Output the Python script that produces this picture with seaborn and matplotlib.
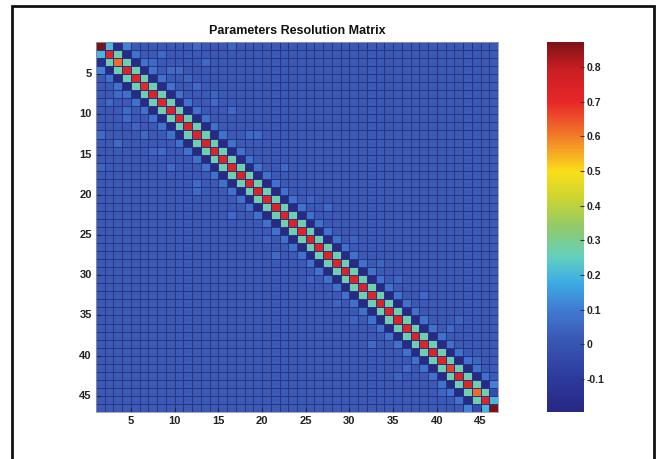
import numpy as np
import pandas as pd
import matplotlib
matplotlib.use("Agg")
import matplotlib.pyplot as plt
from matplotlib.colors import LinearSegmentedColormap
from matplotlib.patches import Rectangle
import seaborn as sns

# ---- data (46 x 46 resolution matrix) ----
n_params = 46
diag_vals = [0.872, 0.72, 0.62, 0.74, 0.73, 0.70, 0.74, 0.73, 0.74, 0.73,
             0.74, 0.73, 0.74, 0.73, 0.74, 0.73, 0.74, 0.73, 0.74, 0.73,
             0.74, 0.73, 0.74, 0.73, 0.74, 0.73, 0.74, 0.73, 0.74, 0.73,
             0.74, 0.73, 0.74, 0.73, 0.74, 0.73, 0.74, 0.73, 0.74, 0.73,
             0.67, 0.74, 0.73, 0.62, 0.72, 0.872]
band1_vals = [0.20] + [0.27] * 43 + [0.20]
band2_vals = [-0.16] + [-0.18] * 42 + [-0.16]
band3_vals = [0.11] + [0.08] * 41 + [0.11]
background_val = 0.02
# lighter background cells: (row, col, value), 1-based
light_cells = [(1, 12, 0.06), (1, 16, 0.05), (2, 8, 0.06), (3, 13, 0.06),
               (4, 9, 0.06), (5, 11, 0.07), (6, 12, 0.06), (7, 3, 0.06),
               (8, 14, 0.06), (9, 16, 0.06), (10, 4, 0.06), (11, 5, 0.05),
               (12, 19, 0.06), (14, 7, 0.05), (16, 22, 0.06), (18, 12, 0.06),
               (20, 25, 0.05), (22, 16, 0.06), (25, 30, 0.05), (27, 21, 0.06),
               (30, 35, 0.05), (33, 28, 0.05), (36, 41, 0.06), (38, 32, 0.06),
               (40, 44, 0.05), (42, 35, 0.05), (44, 46, 0.15)]
x_ticks = [5, 10, 15, 20, 25, 30, 35, 40, 45]
y_ticks = [5, 10, 15, 20, 25, 30, 35, 40, 45]
cbar_ticks = [-0.1, 0, 0.1, 0.2, 0.3, 0.4, 0.5, 0.6, 0.7, 0.8]
cbar_labels = ["-0.1", "0", "0.1", "0.2", "0.3", "0.4", "0.5", "0.6", "0.7", "0.8"]
vmin, vmax = -0.195, 0.872

# ---- build matrix from the arrays ----
M = np.full((n_params, n_params), background_val)
for r, c, v in light_cells:
    M[r - 1, c - 1] = v
    M[c - 1, r - 1] = v
M += np.diag(np.array(diag_vals) - background_val)
for k, vals in ((1, band1_vals), (2, band2_vals), (3, band3_vals)):
    v = np.array(vals) - background_val
    M += np.diag(v, k) + np.diag(v, -k)
df = pd.DataFrame(M)

# muted jet colormap as seen in the colorbar
cm_pts = [(0.00, (40, 40, 130)), (0.10, (45, 60, 160)), (0.20, (58, 90, 182)),
          (0.28, (64, 125, 212)), (0.35, (60, 172, 228)), (0.42, (100, 208, 190)),
          (0.50, (145, 202, 105)), (0.58, (205, 212, 50)), (0.65, (250, 222, 25)),
          (0.74, (242, 130, 40)), (0.84, (232, 38, 40)), (0.93, (200, 30, 35)),
          (1.00, (125, 18, 22))]
cmap = LinearSegmentedColormap.from_list(
    "mutedjet", [(p, tuple(ch / 255 for ch in c)) for p, c in cm_pts])

plt.rcParams['font.family'] = ['Liberation Sans', 'DejaVu Sans']
fig = plt.figure(figsize=(6.56, 4.59), dpi=100)
ax = fig.add_axes([96 / 656, 47 / 459, 402 / 656, 370 / 459])
cax = fig.add_axes([547 / 656, 47 / 459, 37 / 656, 370 / 459])

sns.heatmap(df, ax=ax, cbar_ax=cax, cmap=cmap, vmin=vmin, vmax=vmax,
            linewidths=0.45, linecolor="#2a3382", square=False,
            cbar_kws={"ticks": cbar_ticks})

ax.set_xticks([t - 1 for t in x_ticks])
ax.set_xticklabels([str(t) for t in x_ticks], rotation=0)
ax.set_yticks([t - 1 for t in y_ticks])
ax.set_yticklabels([str(t) for t in y_ticks], rotation=0)
ax.tick_params(direction="in", length=3, labelsize=8, pad=3, color="#222222")
for lab in ax.get_xticklabels() + ax.get_yticklabels():
    lab.set_fontweight("bold")
    lab.set_color("#222222")
ax.set_xlabel("")
ax.set_ylabel("")
for s in ax.spines.values():
    s.set_visible(True)
    s.set_linewidth(0.6)
    s.set_color("#9999aa")
ax.set_title("Parameters Resolution Matrix", fontsize=9, fontweight="bold",
             pad=6, color="#111111")

cax.tick_params(direction="in", length=3, labelsize=7.5, pad=2, color="#333333")
cax.set_yticklabels(cbar_labels)
for lab in cax.get_yticklabels():
    lab.set_fontweight("bold")
    lab.set_color("#222222")

# outer frame
fig.patches.append(Rectangle((12 / 656, -0.05), 642 / 656, 1.05 - 6 / 459,
                             transform=fig.transFigure, fill=False,
                             edgecolor="#111111", linewidth=2))

fig.savefig("out.png", dpi=100)
